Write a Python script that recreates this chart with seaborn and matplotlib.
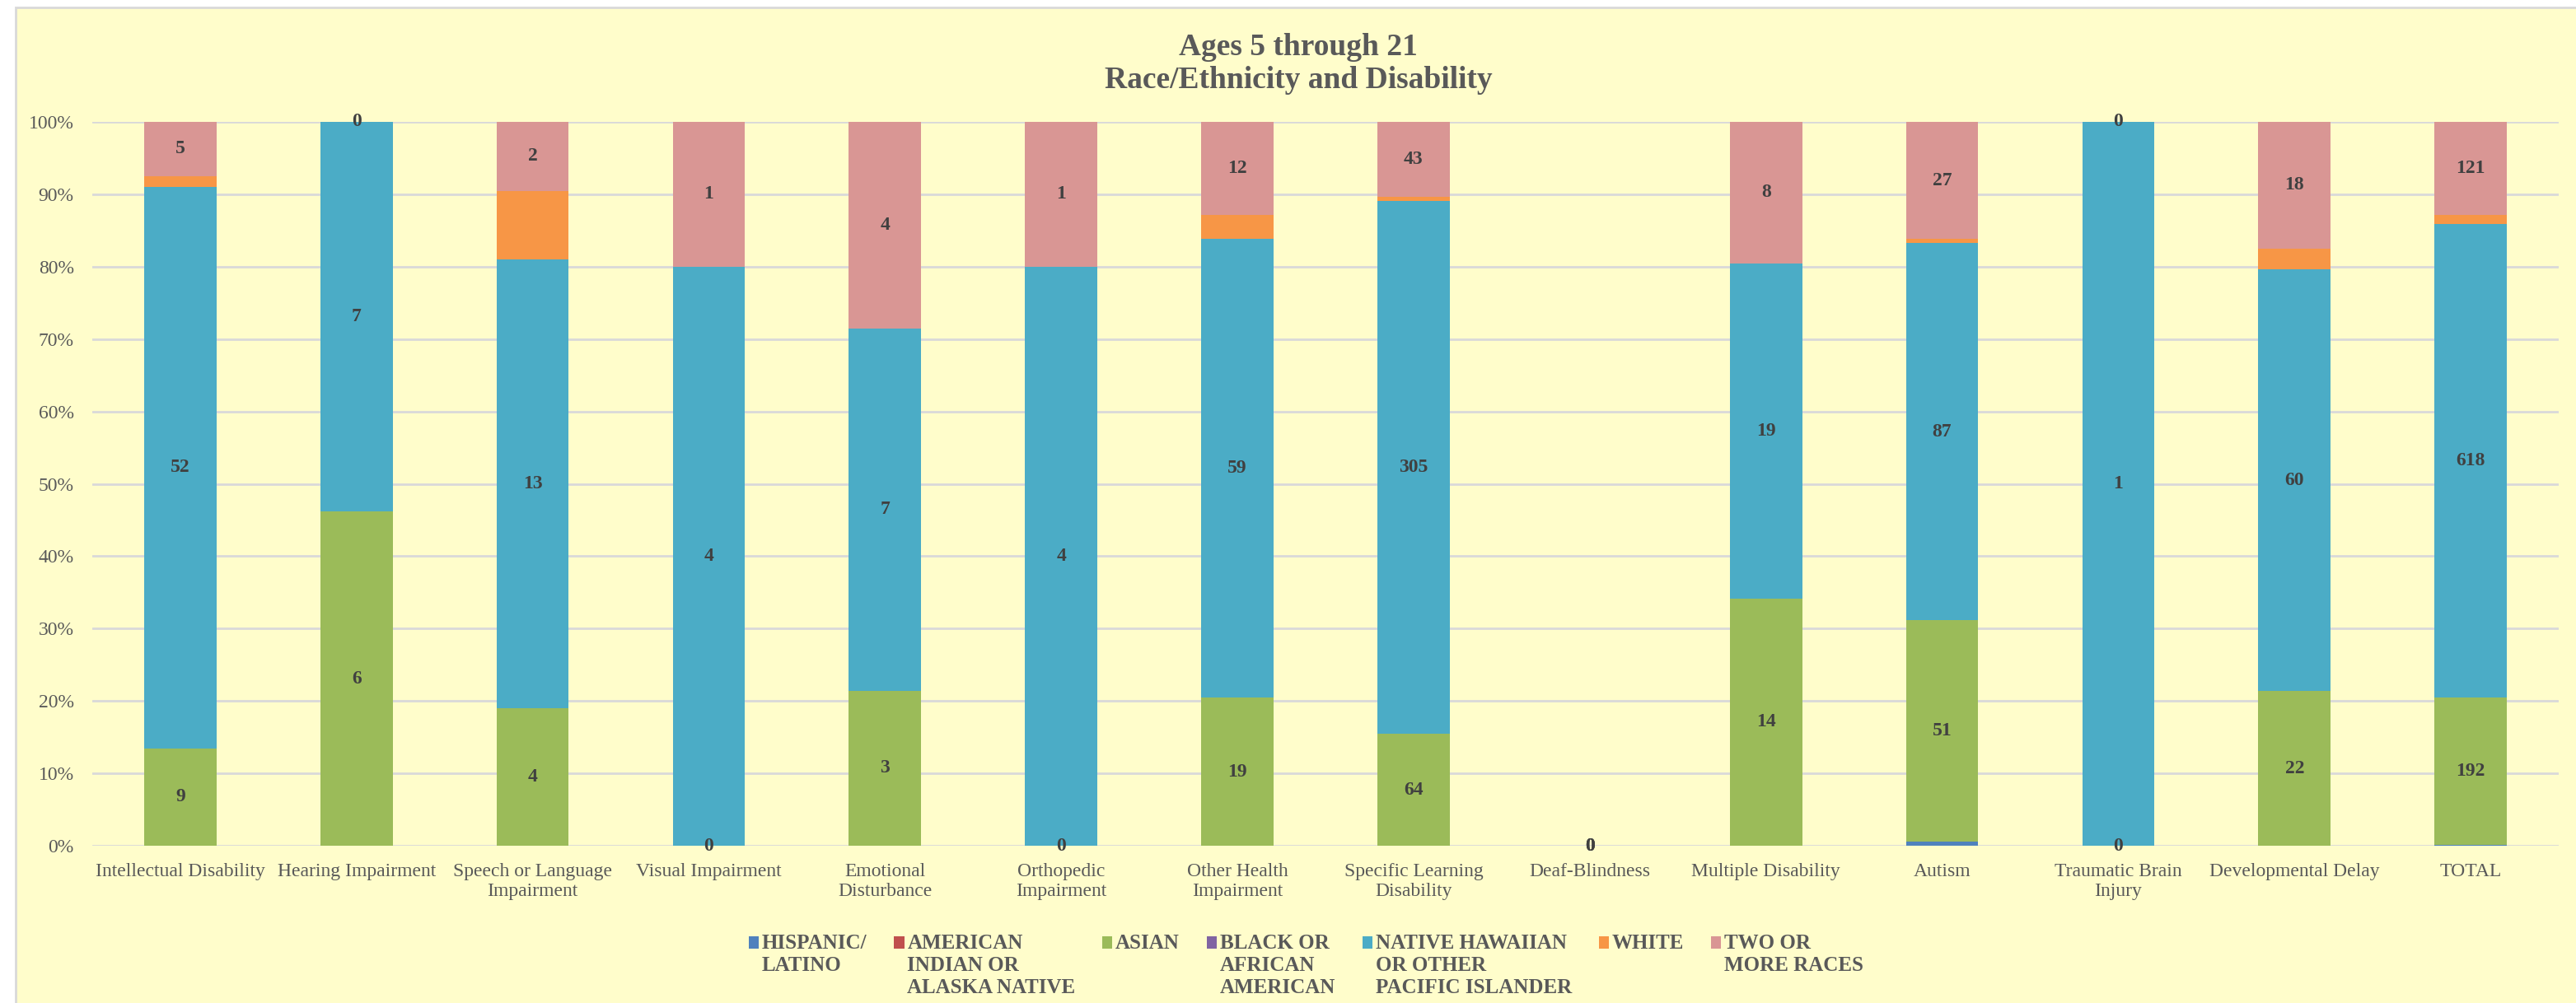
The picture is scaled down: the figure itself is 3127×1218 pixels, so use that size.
import numpy as np
import pandas as pd
import matplotlib.pyplot as plt
import matplotlib.patches as mpatches
from matplotlib.ticker import PercentFormatter
import seaborn as sns

# --------- dados (contagens por categoria de deficiência)
categories = ["Intellectual Disability", "Hearing Impairment", "Speech or Language\nImpairment",
              "Visual Impairment", "Emotional\nDisturbance", "Orthopedic\nImpairment",
              "Other Health\nImpairment", "Specific Learning\nDisability", "Deaf-Blindness",
              "Multiple Disability", "Autism", "Traumatic Brain\nInjury", "Developmental Delay", "TOTAL"]

hispanic = [0, 0, 0, 0, 0, 0, 0, 0, 0, 0, 1, 0, 0, 1]
american_indian = [0, 0, 0, 0, 0, 0, 0, 0, 0, 0, 0, 0, 0, 0]
asian = [9, 6, 4, 0, 3, 0, 19, 64, 0, 14, 51, 0, 22, 192]
black = [0, 0, 0, 0, 0, 0, 0, 0, 0, 0, 0, 0, 0, 0]
pacific = [52, 7, 13, 4, 7, 4, 59, 305, 0, 19, 87, 1, 60, 618]
white = [1, 0, 2, 0, 0, 0, 3, 2, 0, 0, 1, 0, 3, 12]
two_more = [5, 0, 2, 1, 4, 1, 12, 43, 0, 8, 27, 0, 18, 121]

series_names = ["HISPANIC/\nLATINO", "AMERICAN\nINDIAN OR\nALASKA NATIVE", "ASIAN",
                "BLACK OR\nAFRICAN\nAMERICAN", "NATIVE HAWAIIAN\nOR OTHER\nPACIFIC ISLANDER",
                "WHITE", "TWO OR\nMORE RACES"]
series_values = [hispanic, american_indian, asian, black, pacific, white, two_more]
colors = ["#4F81BD", "#C0504D", "#9BBB59", "#8064A2", "#4BACC6", "#F79646", "#D99694"]
labeled = ["ASIAN", "NATIVE HAWAIIAN\nOR OTHER\nPACIFIC ISLANDER", "TWO OR\nMORE RACES"]

BG = "#FFFDCB"
TXT = "#595959"

# --------- tabela longa com percentuais empilhados
counts = np.array(series_values, dtype=float)
totals = counts.sum(axis=0)
shares = np.divide(counts, totals, out=np.zeros_like(counts), where=totals > 0)
tops = shares.cumsum(axis=0)

rows = []
for s, name in enumerate(series_names):
    for i, cat in enumerate(categories):
        rows.append({"series": name, "category": cat, "count": int(counts[s, i]),
                     "share": shares[s, i], "top": tops[s, i]})
df = pd.DataFrame(rows)

sns.set_theme(style="white")
plt.rcParams["font.family"] = ["Liberation Serif", "DejaVu Serif"]

fig = plt.figure(figsize=(31.27, 12.18), dpi=100, facecolor="white")
fig.patches.append(mpatches.Rectangle((19 / 3127, -0.02), 1.0, 1.02 - 9 / 1218,
                                      transform=fig.transFigure, facecolor=BG,
                                      edgecolor="#D9D9D9", lw=2, zorder=-5))
ax = fig.add_axes([0.0358, 0.1568, 0.9575, 0.7217])
ax.set_facecolor("none")

# barras empilhadas: desenha os acumulados de cima para baixo
for name, color in reversed(list(zip(series_names, colors))):
    sub = df[df["series"] == name]
    sns.barplot(data=sub, x="category", y="top", order=categories, color=color,
                saturation=1, width=0.41, errorbar=None, linewidth=0, ax=ax)

# rótulos de dados
for name in labeled:
    sub = df[df["series"] == name].reset_index(drop=True)
    for i, r in sub.iterrows():
        ax.text(i, r["top"] - r["share"] / 2, str(r["count"]), ha="center", va="center",
                fontsize=17, fontweight="bold", color="#404040")

ax.set_xlim(-0.5, len(categories) - 0.5)
ax.set_ylim(0, 1)
ax.set_yticks(np.arange(0, 1.01, 0.1))
ax.yaxis.set_major_formatter(PercentFormatter(1.0, decimals=0))
ax.yaxis.grid(True, color="#D9D9D9", lw=2)
ax.set_axisbelow(True)
for sp in ax.spines.values():
    sp.set_visible(False)
ax.set_xlabel("")
ax.set_ylabel("")
ax.tick_params(axis="x", length=0, pad=15, labelsize=17, labelcolor=TXT)
ax.tick_params(axis="y", length=0, pad=16, labelsize=17, labelcolor=TXT)

fig.text(0.504, 0.9364, "Ages 5 through 21\nRace/Ethnicity and Disability", ha="center", va="center",
         fontsize=27, fontweight="bold", color=TXT, linespacing=1.2)

# --------- legenda
handles = [mpatches.Patch(facecolor=c, edgecolor="none") for c in colors]
padded = [n + "\n" * (2 - n.count("\n")) for n in series_names]
leg = fig.legend(handles, padded, loc="upper center", bbox_to_anchor=(0.507, 0.079), ncol=7,
                 frameon=False, borderpad=0, handlelength=0.5, handleheight=0.5,
                 handletextpad=0.15, columnspacing=1.3,
                 prop={"weight": "bold", "size": 18, "family": "Liberation Serif"}, labelcolor=TXT)
for t in leg.get_texts():
    t.set_linespacing(1.22)

# alinha os marcadores com a primeira linha do texto (como no Excel)
fig.canvas.draw()
renderer = fig.canvas.get_renderer()
for h, t in zip(leg.legend_handles, leg.get_texts()):
    tb = t.get_window_extent(renderer)
    hb = h.get_window_extent(renderer)
    shift_px = (tb.y1 - 3) - hb.y1
    h.set_y(h.get_y() + shift_px * 72 / fig.dpi)

fig.savefig("out.png", dpi=100, facecolor="white")
